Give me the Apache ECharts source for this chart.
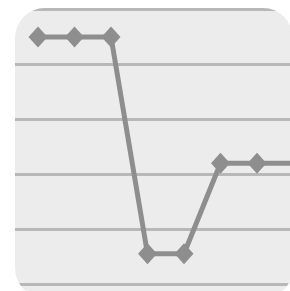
<!DOCTYPE html>
<html>
<head>
<meta charset="utf-8">
<script src="https://cdn.jsdelivr.net/npm/echarts@6/dist/echarts.min.js"></script>
<style>
  html, body { margin: 0; padding: 0; background: #fff; overflow: hidden; }
  #card {
    position: absolute; left: 15px; top: 8px; width: 278px; height: 290px;
    border-radius: 30px; overflow: hidden; background: #ececec;
    filter: blur(0.7px);
  }
  #main { position: absolute; left: -15px; top: -8px; width: 290px; height: 291px; }
</style>
</head>
<body>
<div id="card"><div id="main"></div></div>
<script>
// one step per point
var steps = [0, 1, 2, 3, 4, 5, 6, 7];
var values = [4.5, 4.5, 4.5, 0.55, 0.55, 2.2, 2.2, 2.2];
var yTicks = [0, 1, 2, 3, 4, 5];

var chart = echarts.init(document.getElementById('main'));
chart.setOption({
  animation: false,
  grid: { left: 15, right: 0, top: 9.5, bottom: 7 },
  xAxis: {
    type: 'value',
    min: -0.63,
    max: 6.904,
    show: false
  },
  yAxis: {
    type: 'value',
    min: yTicks[0],
    max: yTicks[yTicks.length - 1],
    interval: 1,
    axisLine: { show: false },
    axisTick: { show: false },
    axisLabel: { show: false },
    splitLine: {
      showMinLine: true,
      showMaxLine: true,
      lineStyle: { color: '#b8b8b8', width: 3 }
    }
  },
  series: [{
    type: 'line',
    data: steps.map(function (s, i) { return [s, values[i]]; }),
    clip: true,
    symbol: 'diamond',
    symbolSize: [19, 21],
    itemStyle: { color: '#8e8e8e' },
    lineStyle: { color: '#8e8e8e', width: 5 }
  }]
});
</script>
</body>
</html>
